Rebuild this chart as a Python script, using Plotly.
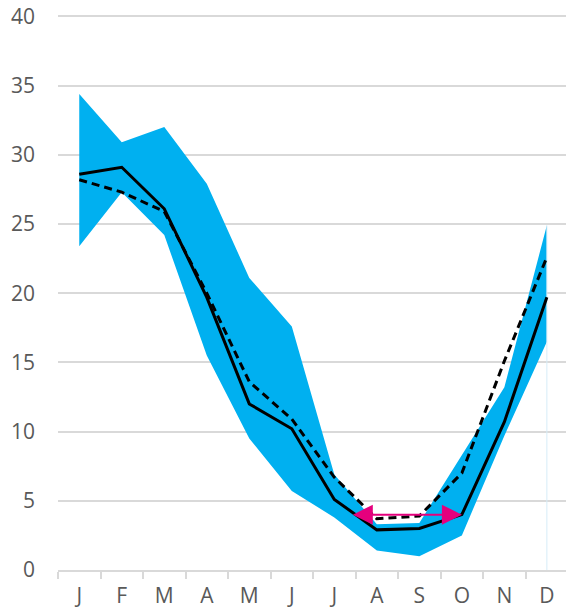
import plotly.graph_objects as go

months = ["J", "F", "M", "A", "M", "J", "J", "A", "S", "O", "N", "D"]
band_upper = [34.4, 30.9, 32.0, 27.9, 21.1, 17.6, 6.9, 3.3, 3.4, 8.3, 13.2, 24.9]
band_lower = [23.4, 27.3, 24.2, 15.5, 9.5, 5.7, 3.8, 1.4, 1.0, 2.5, 9.7, 16.5]
solid_vals = [28.6, 29.1, 26.1, 19.7, 12.0, 10.2, 5.1, 2.9, 3.0, 4.0, 10.7, 19.7]
dashed_vals = [28.2, 27.3, 25.9, 20.0, 13.6, 10.9, 6.7, 3.7, 3.9, 7.0, 15.1, 22.6]
arrow_level = 4.0
arrow_from = 6.4
arrow_to = 9.0
y_ticks = [0, 5, 10, 15, 20, 25, 30, 35, 40]

x = list(range(len(months)))
BLUE = "#00b0f0"
GRAY = "#595959"

fig = go.Figure()
fig.add_trace(go.Scatter(x=x, y=band_lower, mode="lines", line=dict(width=0, color=BLUE),
                         hoverinfo="skip", showlegend=False))
fig.add_trace(go.Scatter(x=x, y=band_upper, mode="lines", line=dict(width=0, color=BLUE),
                         fill="tonexty", fillcolor=BLUE, hoverinfo="skip", showlegend=False))
# thin edge line at the last month, as drawn in the original area chart
fig.add_trace(go.Scatter(x=[x[-1], x[-1]], y=[0, band_upper[-1]], mode="lines",
                         line=dict(width=1, color="#d6ecf8"), hoverinfo="skip", showlegend=False))
fig.add_trace(go.Scatter(x=x, y=dashed_vals, mode="lines",
                         line=dict(color="black", width=3, dash="8px,5px"), showlegend=False))
fig.add_trace(go.Scatter(x=x, y=solid_vals, mode="lines",
                         line=dict(color="black", width=3), showlegend=False))

fig.add_annotation(x=arrow_to, y=arrow_level, ax=arrow_from, ay=arrow_level,
                   xref="x", yref="y", axref="x", ayref="y", text="",
                   showarrow=True, arrowside="end+start", arrowhead=2,
                   arrowsize=2, arrowwidth=2, arrowcolor="#e5007d")

fig.update_layout(
    width=566, height=611,
    margin=dict(l=58, r=0, t=15, b=41, autoexpand=False),
    plot_bgcolor="white", paper_bgcolor="white",
    font=dict(family="Open Sans", size=21, color=GRAY),
)
fig.update_xaxes(
    range=[-0.5, 11.45], tickmode="array", tickvals=x, ticktext=months,
    ticks="", showgrid=False, showline=True, linecolor="#d9d9d9", linewidth=1.5,
    zeroline=False, ticklabelstandoff=6,
    minor=dict(tickmode="linear", tick0=-0.5, dtick=1, ticks="outside", ticklen=7,
               tickcolor="#d9d9d9", tickwidth=1.5, showgrid=False),
    tickfont=dict(size=21, color=GRAY),
)
fig.update_yaxes(
    range=[0, 40.1], tickmode="array", tickvals=y_ticks, showgrid=True,
    gridcolor="#d9d9d9", gridwidth=1.5, zeroline=False, ticks="",
    ticklabelstandoff=22, tickfont=dict(size=21, color=GRAY),
)

fig.write_html("out.html", config={"displayModeBar": False},
               post_script="document.body.style.margin='0';")
